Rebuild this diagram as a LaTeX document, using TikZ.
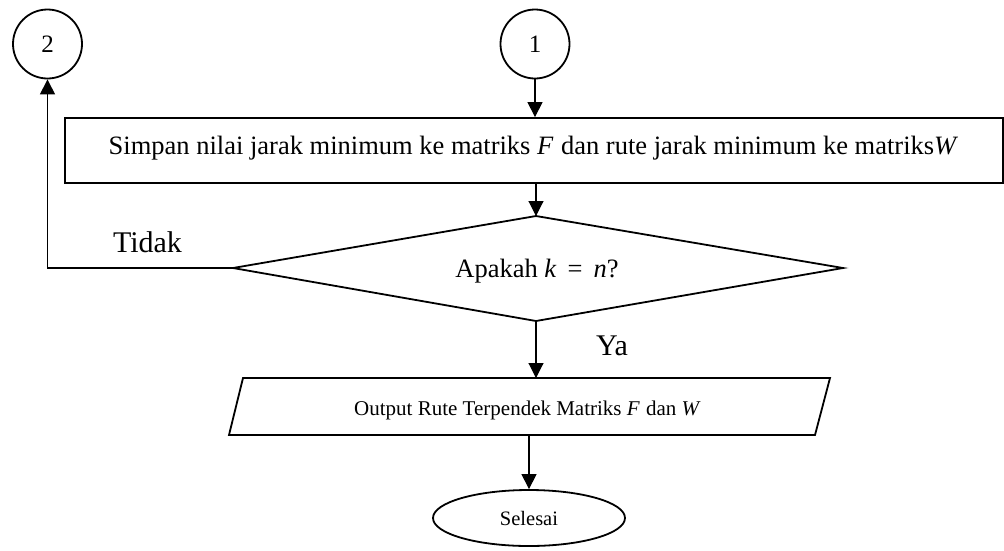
\documentclass[tikz,border=0pt]{standalone}
\usepackage{fontspec}
\setmainfont{Liberation Serif}
\usetikzlibrary{arrows.meta,shapes.geometric}
\begin{document}
\begin{tikzpicture}[x=1pt,y=-1pt,
  shapeline/.style={line width=1.8pt},
  conn/.style={line width=1.1pt,-{Triangle[length=15pt,width=15pt]}},
  bigtxt/.style={font=\fontsize{26.5}{30}\selectfont},
  lbl/.style={font=\fontsize{30}{34}\selectfont, anchor=base}]
\useasboundingbox (0,0) rectangle (1004,550);
% connector circles
\node[circle, draw, shapeline, minimum size=69pt, inner sep=0pt, font=\fontsize{25}{30}\selectfont] (c2) at (47.5,44) {2};
\node[circle, draw, shapeline, minimum size=69pt, inner sep=0pt, font=\fontsize{25}{30}\selectfont] (c1) at (535,44) {1};
% process rectangle
\node[draw, shapeline, minimum width=938pt, minimum height=65pt, inner sep=0pt] (r) at (534,150.5) {};
\node[bigtxt, anchor=base] (rt) at (533.5,154) {Simpan nilai jarak minimum ke matriks \textit{F}\kern1pt{} dan rute jarak minimum ke matriks\textit{W}};
% decision diamond
\coordinate (dT) at (536,216);
\coordinate (dR) at (843,268);
\coordinate (dB) at (536,321);
\coordinate (dL) at (233,268);
\draw[shapeline, line join=miter] (dT) -- (dR) -- (dB) -- (dL) -- cycle;
\node[bigtxt, anchor=base] (dt) at (537,277) {Apakah \textit{k}\, = \,\textit{n}?};
% output parallelogram
\coordinate (p1) at (243,378);
\coordinate (p2) at (830,378);
\coordinate (p3) at (815,435);
\coordinate (p4) at (229,435);
\draw[shapeline, line join=miter] (p1) -- (p2) -- (p3) -- (p4) -- cycle;
\node[font=\fontsize{21}{25}\selectfont, anchor=base] (pt) at (527.5,415) {Output Rute Terpendek Matriks \textit{F}\kern1pt{} dan \textit{W}};
% terminator
\node[ellipse, draw, shapeline, minimum width=192pt, minimum height=56pt, inner sep=0pt, font=\fontsize{20.5}{24}\selectfont] (e) at (529,518) {Selesai};
% arrows
\draw[conn] (c1.south) -- (c1.south |- r.north);
\draw[conn] (dT |- r.south) -- (dT);
\coordinate (pT) at (536,378);
\draw[conn] (dB) -- (pT);
\coordinate (pB) at (529,435);
\draw[conn] (pB) -- (e.north);
\draw[conn] (dL) -| (c2.south);
% labels
\node[lbl] (tidak) at (147.5,252) {Tidak};
\node[lbl] (ya) at (612,355) {Ya};
\end{tikzpicture}
\end{document}
